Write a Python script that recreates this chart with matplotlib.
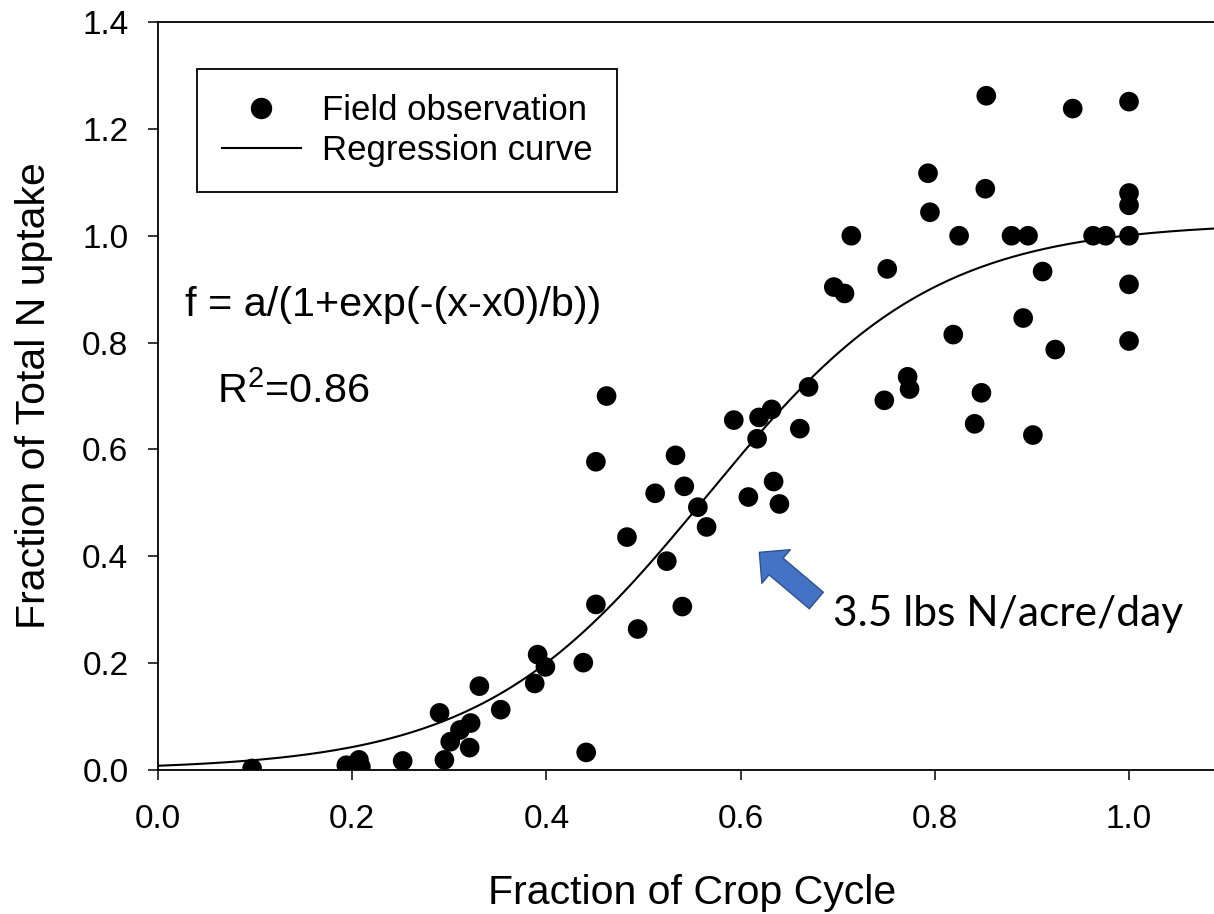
import numpy as np
import matplotlib
matplotlib.use('Agg')
import matplotlib.pyplot as plt

plt.rcParams['font.family'] = ['Liberation Sans', 'DejaVu Sans']
plt.rcParams['mathtext.fontset'] = 'custom'
plt.rcParams['mathtext.rm'] = 'Liberation Sans'

obs_x = [0.097, 0.194, 0.207, 0.209, 0.252, 0.295, 0.290, 0.301, 0.311, 0.322,
         0.321, 0.331, 0.353, 0.388, 0.391, 0.399, 0.438, 0.441, 0.451, 0.494,
         0.483,
         0.462, 0.451, 0.533, 0.512, 0.542, 0.556, 0.565, 0.524, 0.540, 0.608,
         0.634, 0.640, 0.593, 0.619, 0.632, 0.617, 0.661, 0.670,
         0.853, 0.942, 1.000, 0.793, 0.852, 1.000, 1.000, 0.795, 0.714, 0.825,
         0.879, 0.896, 0.963, 0.976, 1.000, 0.751, 0.911, 0.696, 0.707, 1.000,
         0.891, 0.819, 0.924, 1.000, 0.772, 0.774, 0.748, 0.848, 0.841, 0.901]
obs_y = [0.003, 0.009, 0.019, 0.006, 0.017, 0.019, 0.107, 0.053, 0.075, 0.088,
         0.042, 0.157, 0.113, 0.162, 0.216, 0.193, 0.201, 0.033, 0.310, 0.264,
         0.436,
         0.700, 0.577, 0.589, 0.518, 0.531, 0.492, 0.455, 0.391, 0.306, 0.511,
         0.540, 0.498, 0.655, 0.660, 0.675, 0.620, 0.639, 0.717,
         1.262, 1.238, 1.251, 1.117, 1.088, 1.080, 1.057, 1.044, 1.000, 1.000,
         1.000, 1.000, 1.000, 1.000, 1.000, 0.938, 0.933, 0.904, 0.892, 0.909,
         0.846, 0.815, 0.787, 0.803, 0.736, 0.713, 0.692, 0.706, 0.648, 0.627]

# sigmoid regression f = a/(1+exp(-(x-x0)/b))
a, x0, b = 1.025, 0.565, 0.1167

x_max = 1.0875
curve_x = np.linspace(0, x_max, 300)
curve_y = a / (1 + np.exp(-(curve_x - x0) / b))

fig = plt.figure(figsize=(12.14, 9.14), dpi=100)
ax = fig.add_axes([0.1301, 0.1575, 0.8699, 0.8184])

ax.scatter(obs_x, obs_y, s=200, color='black', edgecolors='none', zorder=3)
ax.plot(curve_x, curve_y, color='black', lw=1.5, zorder=2)

ax.set_xlim(0, x_max)
ax.set_ylim(0, 1.4)
ax.set_xticks(np.arange(0, 1.01, 0.2))
ax.set_yticks(np.arange(0, 1.41, 0.2))
ax.xaxis.set_major_formatter(matplotlib.ticker.FormatStrFormatter('%.1f'))
ax.yaxis.set_major_formatter(matplotlib.ticker.FormatStrFormatter('%.1f'))
ax.tick_params(axis='both', direction='out', length=7.2, width=1.1, labelsize=24)
ax.tick_params(axis='x', pad=17)
ax.tick_params(axis='y', pad=14)
ax.spines['right'].set_visible(False)
for s in ['left', 'bottom', 'top']:
    ax.spines[s].set_linewidth(1.3)

ax.set_xlabel('Fraction of Crop Cycle', fontsize=29.5, va='baseline')
ax.xaxis.set_label_coords(0.506, -0.1785)
ax.set_ylabel('Fraction of Total N uptake', fontsize=29.5, va='baseline')
ax.yaxis.set_label_coords(-0.107, 0.5)

# legend
h1 = plt.Line2D([], [], marker='o', ls='none', color='black', markersize=14.4)
h2 = plt.Line2D([], [], color='black', lw=1.5)
leg = ax.legend([h1, h2], ['Field observation', 'Regression curve'],
                loc='upper left', bbox_to_anchor=(0.0366, 0.9368), borderaxespad=0,
                fontsize=25, fancybox=False, framealpha=1, edgecolor='black',
                handlelength=2.28, handletextpad=0.6, borderpad=0.72, labelspacing=0.2)
leg.get_frame().set_linewidth(1.3)

ax.text(0.0278, 0.849, 'f = a/(1+exp(-(x-x0)/b))', fontsize=29.8, va='baseline')
ax.text(0.0605, 0.6875, 'R$^2$=0.86', fontsize=29.8, va='baseline')

ax.annotate('', xy=(0.6193, 0.4075), xytext=(0.678, 0.3173),
            arrowprops=dict(arrowstyle='simple,head_length=1.58,head_width=3.17,tail_width=1.56',
                            fc='#4472C4', ec='#2F528F', lw=1, mutation_scale=10,
                            shrinkA=0, shrinkB=0))
ax.text(0.695, 0.269, '3.5 lbs N/acre/day', fontsize=30.6, family=['Lato', 'DejaVu Sans'],
        va='baseline')

fig.savefig('out.png', dpi=100)
